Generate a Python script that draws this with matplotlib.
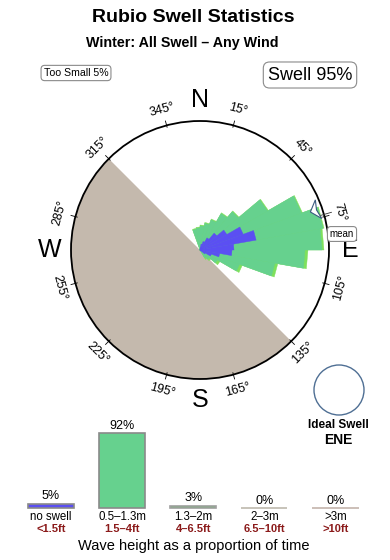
import numpy as np
import matplotlib
matplotlib.use("Agg")
import matplotlib.pyplot as plt
from matplotlib.patches import Polygon, Circle

plt.rcParams['font.family'] = ['Liberation Sans', 'DejaVu Sans']

# ---- data -------------------------------------------------------------
# swell rose, 10 degree direction bins (centre of bin, compass degrees)
dir_centres = [-15, -5, 5, 15, 25, 35, 45, 55, 65, 75, 85, 95, 105, 115, 125, 135, 145]
no_swell    = [0.0, 0.0, 0.0, 0.6, 0.9, 1.4, 2.2, 3.1, 4.6, 5.7, 3.4, 3.2, 2.0, 1.2, 0.6, 0.0, 0.0]
swell_small = [2.1, 2.2, 2.4, 2.1, 2.3, 2.8, 2.8, 4.7, 6.2, 6.8, 8.8, 7.3, 5.6, 3.0, 1.4, 1.2, 0.9]
swell_mid   = [0.1, 0.1, 0.1, 0.1, 0.1, 0.1, 0.1, 0.1, 0.1, 0.1, 0.2, 0.3, 0.3, 0.3, 0.3, 0.2, 0.2]
mean_dir = 71

deg_labels = [15, 45, 75, 105, 135, 165, 195, 225, 255, 285, 315, 345]
compass = ["N", "E", "S", "W"]

# wave height histogram
bar_pct = [5, 92, 3, 0, 0]
bar_m = ["no swell", "0.5–1.3m", "1.3–2m", "2–3m", ">3m"]
bar_ft = ["<1.5ft", "1.5–4ft", "4–6.5ft", "6.5–10ft", ">10ft"]

# ---- layout -----------------------------------------------------------
W, H = 390, 560
R_PX = 129.0
CX, CY = 200.0, 250.0
fig = plt.figure(figsize=(W / 100, H / 100), dpi=100)

def fx(px):
    return px / W

def fy(py):
    return 1 - py / H

blue = '#5b4ff2'
green = '#66d18e'
lime = '#7ee05c'
land = '#c4b9ad'

# rose axes, circle radius = 1
top_px, bot_px = 82, 432
ax = fig.add_axes([0, fy(bot_px), 1, (bot_px - top_px) / H])
ax.set_xlim(-CX / R_PX, (W - CX) / R_PX)
ax.set_ylim(-(bot_px - CY) / R_PX, (CY - top_px) / R_PX)
ax.axis('off')

def pol(r, a):
    t = np.radians(a)
    return r * np.sin(t), r * np.cos(t)

# land half disc (135 -> 315 through south and west)
arc = np.linspace(135, 315, 120)
ax.add_patch(Polygon(np.column_stack(pol(1.0, arc)), closed=True,
                     fc=land, ec='none', zorder=1))

# stacked rose wedges
scale = 0.0775
tot3 = np.array(no_swell) + np.array(swell_small) + np.array(swell_mid)
tot2 = np.array(no_swell) + np.array(swell_small)
tot1 = np.array(no_swell)
for vals, col, z in [(tot3, lime, 2), (tot2, green, 3), (tot1, blue, 4)]:
    for c, v in zip(dir_centres, vals):
        if v <= 0:
            continue
        r = v * scale
        x0, y0 = pol(r, c - 5)
        x1, y1 = pol(r, c + 5)
        ax.add_patch(Polygon([[0, 0], [x0, y0], [x1, y1]], closed=True,
                             fc=col, ec=col, lw=0.3, zorder=z))

# outer circle and ticks
ax.add_patch(Circle((0, 0), 1.0, fc='none', ec='black', lw=1.3, zorder=6))
for a in deg_labels:
    xa, ya = pol(np.array([0.985, 1.035]), a)
    ax.plot(xa, ya, color='black', lw=0.6, zorder=6)
    tx, ty = pol(1.125, a)
    rot = 180 - a if 90 < a < 270 else -a
    ax.text(tx, ty, f"{a}°", fontsize=9, ha='center', va='center',
            rotation=rot, rotation_mode='anchor')

for i, lab in enumerate(compass):
    tx, ty = pol(1.165, i * 90)
    ax.text(tx, ty, lab, fontsize=18, ha='center', va='center')

# mean direction arrow
arrow = [pol(0.905, mean_dir), pol(0.975, mean_dir - 4.5),
         pol(0.955, mean_dir), pol(0.975, mean_dir + 4.5)]
ax.add_patch(Polygon(arrow, closed=True, fc='white', ec='#3a5a80',
                     lw=0.8, zorder=7))
lx, ly = pol(np.array([0.975, 1.06]), mean_dir + 3)
ax.plot(lx, ly, color='#333333', lw=0.6, zorder=7)

# ideal swell circle
ax.add_patch(Circle(((339 - CX) / R_PX, (CY - 390) / R_PX), 25 / R_PX,
                    fc='white', ec='#4f6f94', lw=1.0, zorder=6))

# ---- texts ------------------------------------------------------------
fig.text(fx(193), fy(18), "Rubio Swell Statistics", ha='center', va='center',
         fontsize=14, fontweight='bold')
fig.text(fx(182), fy(43), "Winter: All Swell – Any Wind", ha='center',
         va='center', fontsize=10.3, fontweight='bold')
box = dict(boxstyle='round,pad=0.25,rounding_size=0.35', fc='white',
           ec='#8a8a8a', lw=0.8)
fig.text(fx(76), fy(73), "Too Small 5%", ha='center', va='center',
         fontsize=7.6, bbox=box)
fig.text(fx(310), fy(75), "Swell 95%", ha='center', va='center',
         fontsize=13, bbox=box)
fig.text(fx(342), fy(234), "mean", ha='center', va='center',
         fontsize=7, bbox=box)
fig.text(fx(338), fy(425), "Ideal Swell", ha='center', va='center',
         fontsize=8.5, fontweight='bold')
fig.text(fx(338), fy(440), "ENE", ha='center', va='center',
         fontsize=10, fontweight='bold')

# ---- bars -------------------------------------------------------------
base_px = 508
bx = fig.add_axes([fx(15.5), fy(base_px), fx(355.5), 81.5 / H])
bx.set_xlim(-0.5, 4.5)
bx.set_ylim(0, 100)
bx.axis('off')
bar_cols = [blue, green, '#5cc15e', '#c0bcb0', '#c6b6ae']
bar_edges = ['#8a8a8a', '#8a8a8a', '#a0a0a0', '#bdb9ad', '#c4b4ac']
x = np.arange(len(bar_pct))
bx.bar(x, bar_pct, width=0.65, color=bar_cols, edgecolor=bar_edges,
       linewidth=1.2, clip_on=False)
for i, p in enumerate(bar_pct):
    bx.annotate(f"{p}%", (i, p), xytext=(0, 3.2), textcoords='offset points',
                ha='center', va='baseline', fontsize=9, annotation_clip=False)
    bx.annotate(bar_m[i], (i, 0), xytext=(0, -6.6), textcoords='offset points',
                ha='center', va='center', fontsize=8.3, annotation_clip=False)
    bx.annotate(bar_ft[i], (i, 0), xytext=(0, -15.2), textcoords='offset points',
                ha='center', va='center', fontsize=8, fontweight='bold',
                color='#8b1a1a', annotation_clip=False)

fig.text(fx(194), fy(546), "Wave height as a proportion of time", ha='center',
         va='center', fontsize=10.5)

fig.savefig("out.png", dpi=100)
